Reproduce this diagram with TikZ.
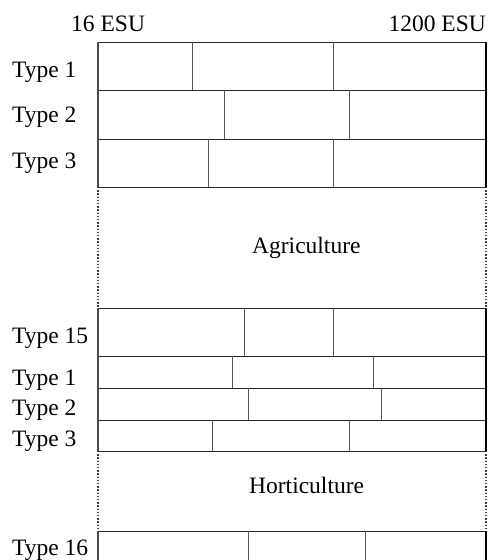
\documentclass[tikz,border=0pt]{standalone}
\usepackage{fontspec}
\setmainfont{Liberation Serif}
\begin{document}
\begin{tikzpicture}[x=1pt,y=-1pt,
  lbl/.style={anchor=base west,inner sep=0pt,font=\fontsize{23.5}{28}\selectfont},
  lblr/.style={anchor=base east,inner sep=0pt,font=\fontsize{23.5}{28}\selectfont},
  hline/.style={line width=1pt,black!85},
  divider/.style={line width=1pt,black!65},
  leftedge/.style={line width=1.6pt,black!70},
  rightedge/.style={line width=2pt,black},
  dotedge/.style={line width=1.4pt,black!75,dash pattern=on 1.4pt off 1.8pt}]
\useasboundingbox (0,0) rectangle (491,560);
\fill[white] (0,0) rectangle (491,560);

% row boundaries
\foreach \y in {42,90,139,187,308,356,388,420,451,531}
  \draw[hline] (98,\y) -- (486,\y);

% dividers inside each row: top/bottom/x1/x2
\foreach \t/\b/\a/\c in {42/90/192/333, 90/139/224/349, 139/187/208/333,
  308/356/244/333, 356/388/232/373, 388/420/248/381, 420/451/212/349,
  531/560/248/365}{
  \draw[divider] (\a,\t) -- (\a,\b);
  \draw[divider] (\c,\t) -- (\c,\b);
}

% outer edges: solid along the rows, dotted across the sector blocks
\draw[leftedge] (98,42) -- (98,187);
\draw[dotedge] (98,187) -- (98,308);
\draw[leftedge] (98,308) -- (98,451);
\draw[dotedge] (98,451) -- (98,531);
\draw[leftedge] (98,531) -- (98,560);
\draw[rightedge] (486,42) -- (486,187);
\draw[dotedge] (486,187) -- (486,308);
\draw[rightedge] (486,308) -- (486,451);
\draw[dotedge] (486,451) -- (486,531);
\draw[rightedge] (486,531) -- (486,560);

% scale labels
\node[lbl] (low) at (71,31) {16 ESU};
\node[lblr] (high) at (486,31) {1200 ESU};

% sector labels
\node[lbl] (agri) at (252,253) {Agriculture};
\node[lbl] (horti) at (249,493) {Horticulture};

% type labels
\node[lbl] (a1) at (12,77) {Type 1};
\node[lbl] (a2) at (12,122) {Type 2};
\node[lbl] (a3) at (12,168) {Type 3};
\node[lbl] (a15) at (12,343) {Type 15};
\node[lbl] (h1) at (12,385) {Type 1};
\node[lbl] (h2) at (12,415) {Type 2};
\node[lbl] (h3) at (12,446) {Type 3};
\node[lbl] (h16) at (12,555) {Type 16};
\end{tikzpicture}
\end{document}
